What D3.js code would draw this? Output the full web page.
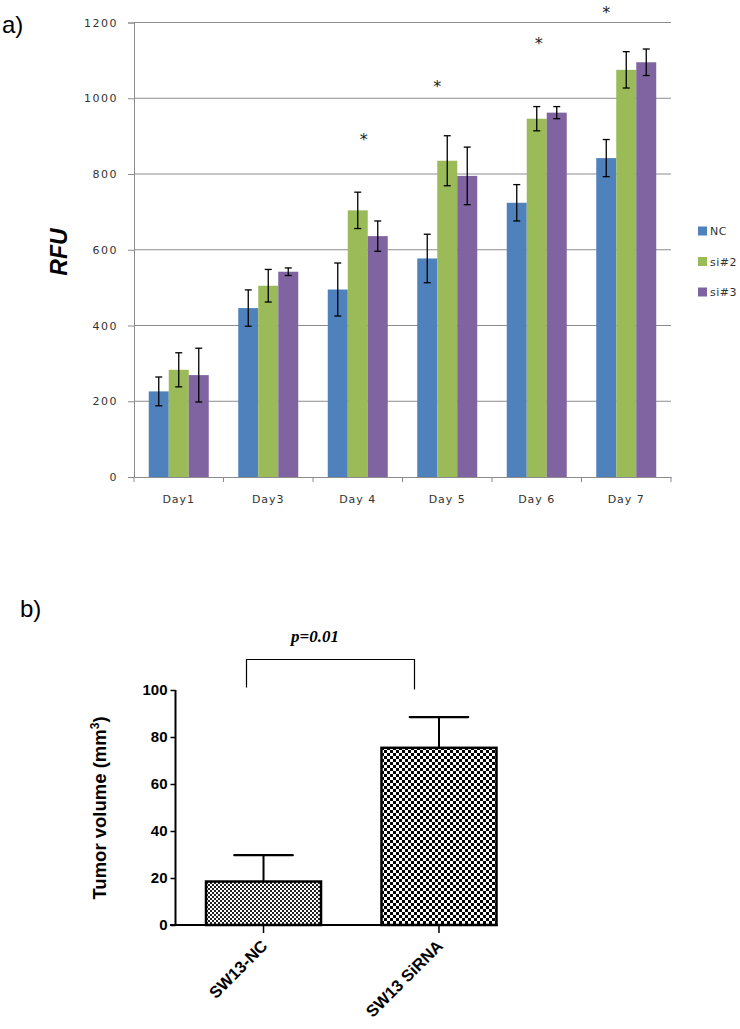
<!DOCTYPE html>
<html><head><meta charset="utf-8">
<script src="https://cdn.jsdelivr.net/npm/d3@7"></script>
<style>body{margin:0;background:#fff;} svg{display:block;}</style>
</head><body>
<script>
// ---------- Panel a data ----------
const days = ["Day1", "Day3", "Day 4", "Day 5", "Day 6", "Day 7"];
const seriesNames = ["NC", "si#2", "si#3"];
const ncValues  = [226, 446, 495, 577, 724, 842];
const ncErrors  = [38, 48, 70, 64, 48, 49];
const si2Values = [283, 505, 704, 835, 946, 1075];
const si2Errors = [45, 43, 48, 66, 32, 48];
const si3Values = [269, 542, 636, 795, 962, 1095];
const si3Errors = [71, 10, 40, 76, 16, 35];
const rfuTicks = [0, 200, 400, 600, 800, 1000, 1200];
const starDays = ["Day 4", "Day 5", "Day 6", "Day 7"];
const starLevels = [900, 1040, 1155, 1236];

// ---------- Panel b data ----------
const groups = ["SW13-NC", "SW13 SiRNA"];
const tumorValues = [18.5, 75.4];
const tumorErrors = [11.2, 13.1];
const tumorTicks = [0, 20, 40, 60, 80, 100];
const pLabel = "p=0.01";

const W = 740, H = 1029;
const svg = d3.select("body").append("svg").attr("width", W).attr("height", H);

const defs = svg.append("defs");
const p1 = defs.append("pattern").attr("id","checkFine").attr("patternUnits","userSpaceOnUse")
  .attr("width",4).attr("height",4);
p1.append("rect").attr("width",4).attr("height",4).attr("fill","#fff");
p1.append("rect").attr("width",2).attr("height",2).attr("fill","#222");
p1.append("rect").attr("x",2).attr("y",2).attr("width",2).attr("height",2).attr("fill","#222");
const p2 = defs.append("pattern").attr("id","checkCoarse").attr("patternUnits","userSpaceOnUse")
  .attr("width",6).attr("height",6);
p2.append("rect").attr("width",6).attr("height",6).attr("fill","#fff");
p2.append("rect").attr("width",3).attr("height",3).attr("fill","#000");
p2.append("rect").attr("x",3).attr("y",3).attr("width",3).attr("height",3).attr("fill","#000");

// ================= Panel a =================
const colors = ["#4F81BD", "#9BBB59", "#8064A2"];
const valuesBySeries = [ncValues, si2Values, si3Values];
const errorsBySeries = [ncErrors, si2Errors, si3Errors];
const fontA = "DejaVu Sans, Verdana, sans-serif";

const ax0 = 134, ax1 = 671, ayTop = 22.5, ayBot = 477;
const xa = d3.scaleBand().domain(days).range([ax0, ax1]).paddingInner(0).paddingOuter(0);
const ya = d3.scaleLinear().domain([0, 1200]).range([ayBot, ayTop]);
const groupPad = 14.75;
const xs = d3.scaleBand().domain(seriesNames).range([0, xa.bandwidth() - 2*groupPad]);

const ga = svg.append("g");
ga.selectAll("line.grid").data(rfuTicks.filter(d => d > 0)).join("line")
  .attr("x1", ax0).attr("x2", ax1).attr("y1", d => ya(d)).attr("y2", d => ya(d))
  .attr("stroke", "#8c8c8c").attr("stroke-width", 1);

const yAxisA = ga.append("g").attr("transform", `translate(${ax0},0)`)
  .call(d3.axisLeft(ya).tickValues(rfuTicks).tickSize(6).tickPadding(10).tickFormat(d3.format("d")));
yAxisA.select(".domain").attr("stroke", "#8c8c8c");
yAxisA.selectAll(".tick line").attr("stroke", "#8c8c8c");
yAxisA.selectAll(".tick text").attr("font-family", fontA)
  .attr("font-size", 11).attr("letter-spacing", 1.5).attr("fill", "#333");

days.forEach((day, i) => {
  seriesNames.forEach((s, j) => {
    const v = valuesBySeries[j][i], e = errorsBySeries[j][i];
    const x = xa(day) + groupPad + xs(s);
    ga.append("rect").attr("x", x).attr("y", ya(v)).attr("width", xs.bandwidth())
      .attr("height", ayBot - ya(v)).attr("fill", colors[j]);
    const cx = x + xs.bandwidth()/2;
    ga.append("line").attr("x1", cx).attr("x2", cx).attr("y1", ya(v+e)).attr("y2", ya(v-e))
      .attr("stroke", "#000").attr("stroke-width", 1.3);
    [v+e, v-e].forEach(t => ga.append("line").attr("x1", cx-3.5).attr("x2", cx+3.5)
      .attr("y1", ya(t)).attr("y2", ya(t)).attr("stroke", "#000").attr("stroke-width", 1.3));
  });
});

const xAxisA = ga.append("g").attr("transform", `translate(0,${ayBot})`)
  .call(d3.axisBottom(xa).tickSize(0).tickPadding(18));
xAxisA.select(".domain").attr("stroke", "#8c8c8c");
xAxisA.selectAll(".tick text").attr("font-family", fontA)
  .attr("font-size", 11).attr("letter-spacing", 1).attr("fill", "#333");
const bounds = days.map(d => xa(d)).concat([xa(days[days.length-1]) + xa.bandwidth()]);
ga.selectAll("line.btick").data(bounds).join("line")
  .attr("x1", d => d).attr("x2", d => d).attr("y1", ayBot).attr("y2", ayBot + 5)
  .attr("stroke", "#8c8c8c");

const starOffsets = [6, -10, 2, -20];
starDays.forEach((d, i) => {
  ga.append("text").attr("x", xa(d) + xa.bandwidth()/2 + starOffsets[i]).attr("y", ya(starLevels[i]) + 9)
    .attr("text-anchor", "middle").attr("font-family", "DejaVu Sans, sans-serif")
    .attr("font-size", 16).attr("fill", "#222").text("*");
});

ga.append("text").attr("transform", `translate(67,252) rotate(-90)`)
  .attr("text-anchor", "middle").attr("font-family", "Liberation Sans, Arial, sans-serif")
  .attr("font-weight", "bold").attr("font-style", "italic").attr("font-size", 23).text("RFU");

seriesNames.forEach((s, j) => {
  const ly = 231 + j*30.5;
  ga.append("rect").attr("x", 698).attr("y", ly - 4.5).attr("width", 9).attr("height", 9).attr("fill", colors[j]);
  ga.append("text").attr("x", 710).attr("y", ly + 4).attr("font-family", fontA)
    .attr("font-size", 11).attr("letter-spacing", 0.5).attr("fill", "#333").text(s);
});

svg.append("text").attr("x", 2).attr("y", 33).attr("font-family", "Liberation Sans, Arial, sans-serif")
  .attr("font-size", 24).text("a)");

// ================= Panel b =================
const bx0 = 175.5, byTop = 690, byBot = 925;
const xb = d3.scaleBand().domain(groups).range([205, 497.5]).paddingInner(0.333).paddingOuter(0);
const yb = d3.scaleLinear().domain([0, 100]).range([byBot, byTop]);
const gb = svg.append("g");
const fills = ["url(#checkFine)", "url(#checkCoarse)"];

groups.forEach((g, i) => {
  const v = tumorValues[i], e = tumorErrors[i];
  const x = xb(g), w = xb.bandwidth(), cx = x + w/2;
  gb.append("line").attr("x1", cx).attr("x2", cx).attr("y1", yb(v)).attr("y2", yb(v+e))
    .attr("stroke", "#000").attr("stroke-width", 2);
  gb.append("line").attr("x1", cx - w/4).attr("x2", cx + w/4).attr("y1", yb(v+e)).attr("y2", yb(v+e))
    .attr("stroke", "#000").attr("stroke-width", 2.2).attr("stroke-linecap", "round");
  gb.append("rect").attr("x", x + 1).attr("y", yb(v)).attr("width", w - 2).attr("height", byBot - yb(v))
    .attr("fill", fills[i]).attr("stroke", "#000").attr("stroke-width", 2.5);
});

const yAxisB = gb.append("g").attr("transform", `translate(${bx0},0)`)
  .call(d3.axisLeft(yb).tickValues(tumorTicks).tickSize(5).tickPadding(3).tickFormat(d3.format("d")));
yAxisB.select(".domain").attr("stroke-width", 2).attr("d", `M0,${byTop}V${byBot}`);
yAxisB.selectAll(".tick line").attr("stroke-width", 1.5);
yAxisB.selectAll(".tick text").attr("font-family", "Liberation Sans, Arial, sans-serif")
  .attr("font-weight", "bold").attr("font-size", 15).attr("fill", "#000");

const lastG = groups[groups.length - 1];
gb.append("line").attr("x1", 170).attr("x2", xb(lastG) + xb.bandwidth())
  .attr("y1", byBot).attr("y2", byBot).attr("stroke", "#000").attr("stroke-width", 2);
groups.forEach(g => {
  const cx = xb(g) + xb.bandwidth()/2;
  gb.append("line").attr("x1", cx).attr("x2", cx).attr("y1", byBot).attr("y2", byBot + 8)
    .attr("stroke", "#000").attr("stroke-width", 1.5);
  gb.append("text").attr("transform", `translate(${cx + 5},${byBot + 22}) rotate(-45)`)
    .attr("text-anchor", "end").attr("font-family", "Liberation Sans, Arial, sans-serif")
    .attr("font-weight", "bold").attr("font-size", 16.5).text(g);
});

const yt = gb.append("text").attr("transform", `translate(106,808) rotate(-90)`)
  .attr("text-anchor", "middle").attr("font-family", "Liberation Sans, Arial, sans-serif")
  .attr("font-weight", "bold").attr("font-size", 18.5);
yt.append("tspan").text("Tumor volume (mm");
yt.append("tspan").attr("dy", -7).attr("font-size", 12).text("3");
yt.append("tspan").attr("dy", 7).text(")");

const bl = 246.5, br = 414.5;
gb.append("path").attr("d", `M${bl},687.5V659.5H${br}V689.5`).attr("fill", "none")
  .attr("stroke", "#000").attr("stroke-width", 1.2);
gb.append("text").attr("x", 315).attr("y", 642).attr("text-anchor", "middle")
  .attr("font-family", "Liberation Serif, Times New Roman, serif").attr("font-weight", "bold")
  .attr("font-style", "italic").attr("font-size", 17).text(pLabel);

svg.append("text").attr("x", 20).attr("y", 617).attr("font-family", "Liberation Sans, Arial, sans-serif")
  .attr("font-size", 24).text("b)");
</script>
</body></html>
